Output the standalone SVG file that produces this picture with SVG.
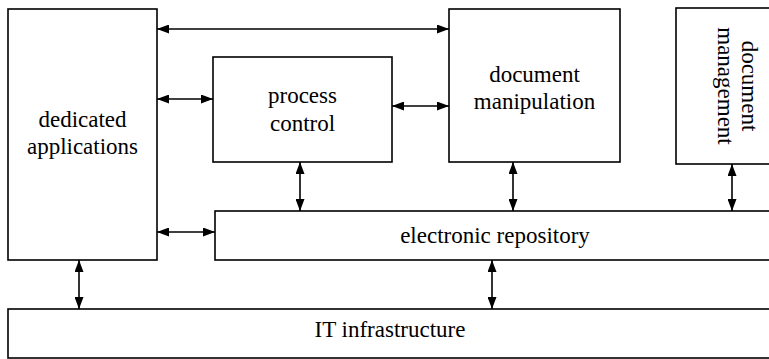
<svg xmlns="http://www.w3.org/2000/svg" width="769" height="359" viewBox="0 0 769 359">
<style>
.box{fill:#fff;stroke:#000;stroke-width:1.6}
.lbl{font-family:"Liberation Serif","Times New Roman","DejaVu Serif",serif;font-size:23px;fill:#000;text-anchor:middle}
.con{stroke:#000;stroke-width:1.6;fill:none;marker-start:url(#ah);marker-end:url(#ah)}
</style>
<defs>
<marker id="ah" markerUnits="userSpaceOnUse" markerWidth="12" markerHeight="9" refX="12" refY="4.5" orient="auto-start-reverse" viewBox="0 0 12 9">
<path d="M0,0 L12,4.5 L0,9 z" fill="#000"/>
</marker>
</defs>
<rect width="769" height="359" fill="#fff"/>
<g id="dedicated-applications">
<rect class="box" x="8" y="9" width="149" height="251"/>
<text class="lbl" x="82.5" y="127">dedicated</text>
<text class="lbl" x="82.5" y="154">applications</text>
</g>
<g id="process-control">
<rect class="box" x="213" y="57" width="179" height="105"/>
<text class="lbl" x="302.5" y="103">process</text>
<text class="lbl" x="302.5" y="131">control</text>
</g>
<g id="document-manipulation">
<rect class="box" x="449" y="9" width="171" height="153"/>
<text class="lbl" x="534.5" y="82">document</text>
<text class="lbl" x="534.5" y="109">manipulation</text>
</g>
<g id="document-management">
<rect class="box" x="676" y="8" width="100" height="156"/>
<text class="lbl" transform="translate(742,86) rotate(90)" x="0" y="0">document</text>
<text class="lbl" transform="translate(718,86) rotate(90)" x="0" y="0">management</text>
</g>
<g id="electronic-repository">
<rect class="box" x="215" y="211" width="560" height="49"/>
<text class="lbl" x="495" y="243">electronic repository</text>
</g>
<g id="it-infrastructure">
<rect class="box" x="8" y="309" width="767" height="49"/>
<text class="lbl" x="390" y="337">IT infrastructure</text>
</g>
<g id="connectors">
<line class="con" x1="157" y1="29" x2="449" y2="29"/>
<line class="con" x1="157" y1="99" x2="213" y2="99"/>
<line class="con" x1="392" y1="106" x2="449" y2="106"/>
<line class="con" x1="300" y1="162" x2="300" y2="211"/>
<line class="con" x1="513" y1="162" x2="513" y2="211"/>
<line class="con" x1="732" y1="164" x2="732" y2="211"/>
<line class="con" x1="157" y1="232" x2="215" y2="232"/>
<line class="con" x1="79" y1="260" x2="79" y2="309"/>
<line class="con" x1="492" y1="260" x2="492" y2="309"/>
</g>
</svg>
